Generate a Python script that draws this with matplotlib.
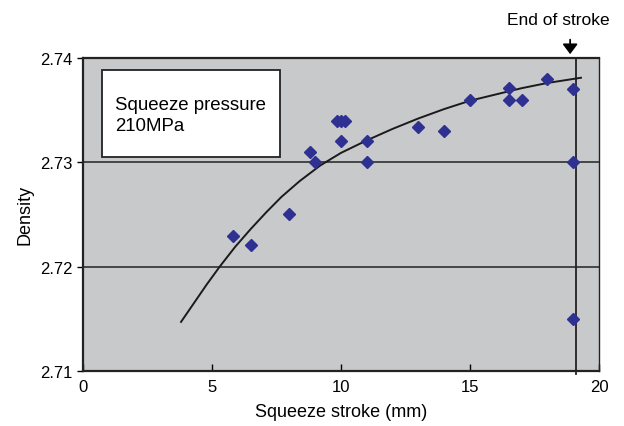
import matplotlib.pyplot as plt

plt.rcParams['font.family'] = ['Liberation Sans', 'DejaVu Sans']

# measured points
stroke = [5.83, 6.51, 7.98, 8.80, 8.99, 9.83, 9.99, 10.16, 10.0, 11.02, 11.02,
          12.97, 13.99, 15.01, 16.52, 16.52, 17.03, 17.97, 18.99, 18.99, 18.99]
density = [2.7229, 2.7221, 2.7250, 2.7310, 2.7300, 2.7340, 2.7340, 2.7340, 2.7320,
           2.7320, 2.7300, 2.7334, 2.7330, 2.7360, 2.7371, 2.7360, 2.7360, 2.7380,
           2.7370, 2.7300, 2.7150]

# trend line
trend_x = [3.8, 4.3, 4.8, 5.3, 5.9, 6.5, 7.1, 7.7, 8.4, 9.2, 10.0, 11.0, 12.0,
           13.0, 14.0, 15.0, 16.0, 17.0, 18.0, 19.3]
trend_y = [2.7147, 2.7165, 2.7183, 2.7200, 2.7219, 2.7236, 2.7252, 2.7267, 2.7282,
           2.7297, 2.7309, 2.7321, 2.7332, 2.7342, 2.7351, 2.7359, 2.7365, 2.7371,
           2.7376, 2.7381]

end_stroke = 19.12

fig = plt.figure(figsize=(6.24, 4.27), dpi=100)
ax = fig.add_axes([0.133, 0.129, 0.827, 0.733])
ax.set_facecolor('#c8c9cb')

for yv in [2.72, 2.73]:
    ax.axhline(yv, color='#222222', lw=1.1, zorder=1)

ax.plot([end_stroke, end_stroke], [2.7097, 2.74], color='#222222', lw=1.3,
        clip_on=False, zorder=2)
ax.plot(trend_x, trend_y, color='#1a1a1a', lw=1.4, zorder=3)
ax.plot(stroke, density, 'D', color='#2e3192', ms=6.5, mec='#2e3192', zorder=4)

ax.set_xlim(0, 20)
ax.set_ylim(2.71, 2.74)
ax.set_xticks([0, 5, 10, 15, 20])
ax.set_yticks([2.71, 2.72, 2.73, 2.74])
ax.set_yticklabels(['2.71', '2.72', '2.73', '2.74'])
ax.tick_params(axis='x', direction='in', length=5, width=1, labelsize=12, pad=6)
ax.tick_params(axis='y', direction='out', length=4, width=1, labelsize=12)
for s in ax.spines.values():
    s.set_linewidth(1.6)
    s.set_color('#222222')
ax.spines['right'].set_linewidth(1.0)

ax.set_xlabel('Squeeze stroke (mm)', fontsize=13, labelpad=6)
ax.set_ylabel('Density', fontsize=13, labelpad=5)

box = plt.Rectangle((0.036, 0.683), 0.345, 0.28, transform=ax.transAxes,
                    fc='white', ec='#222222', lw=1.3, zorder=5)
ax.add_patch(box)
ax.text(0.062, 0.817, 'Squeeze pressure\n210MPa', transform=ax.transAxes,
        fontsize=13.4, va='center', ha='left', linespacing=1.3, zorder=6)

ax.text(18.44, 2.74368, 'End of stroke', ha='center', va='center', fontsize=12.5,
        clip_on=False)
ax.annotate('', xy=(18.88, 2.74036), xytext=(18.88, 2.74175),
            arrowprops=dict(arrowstyle='-|>,head_length=0.6,head_width=0.45',
                            color='black', lw=1.3, mutation_scale=10,
                            shrinkA=0, shrinkB=0),
            annotation_clip=False)

fig.savefig('out.png', dpi=100)
